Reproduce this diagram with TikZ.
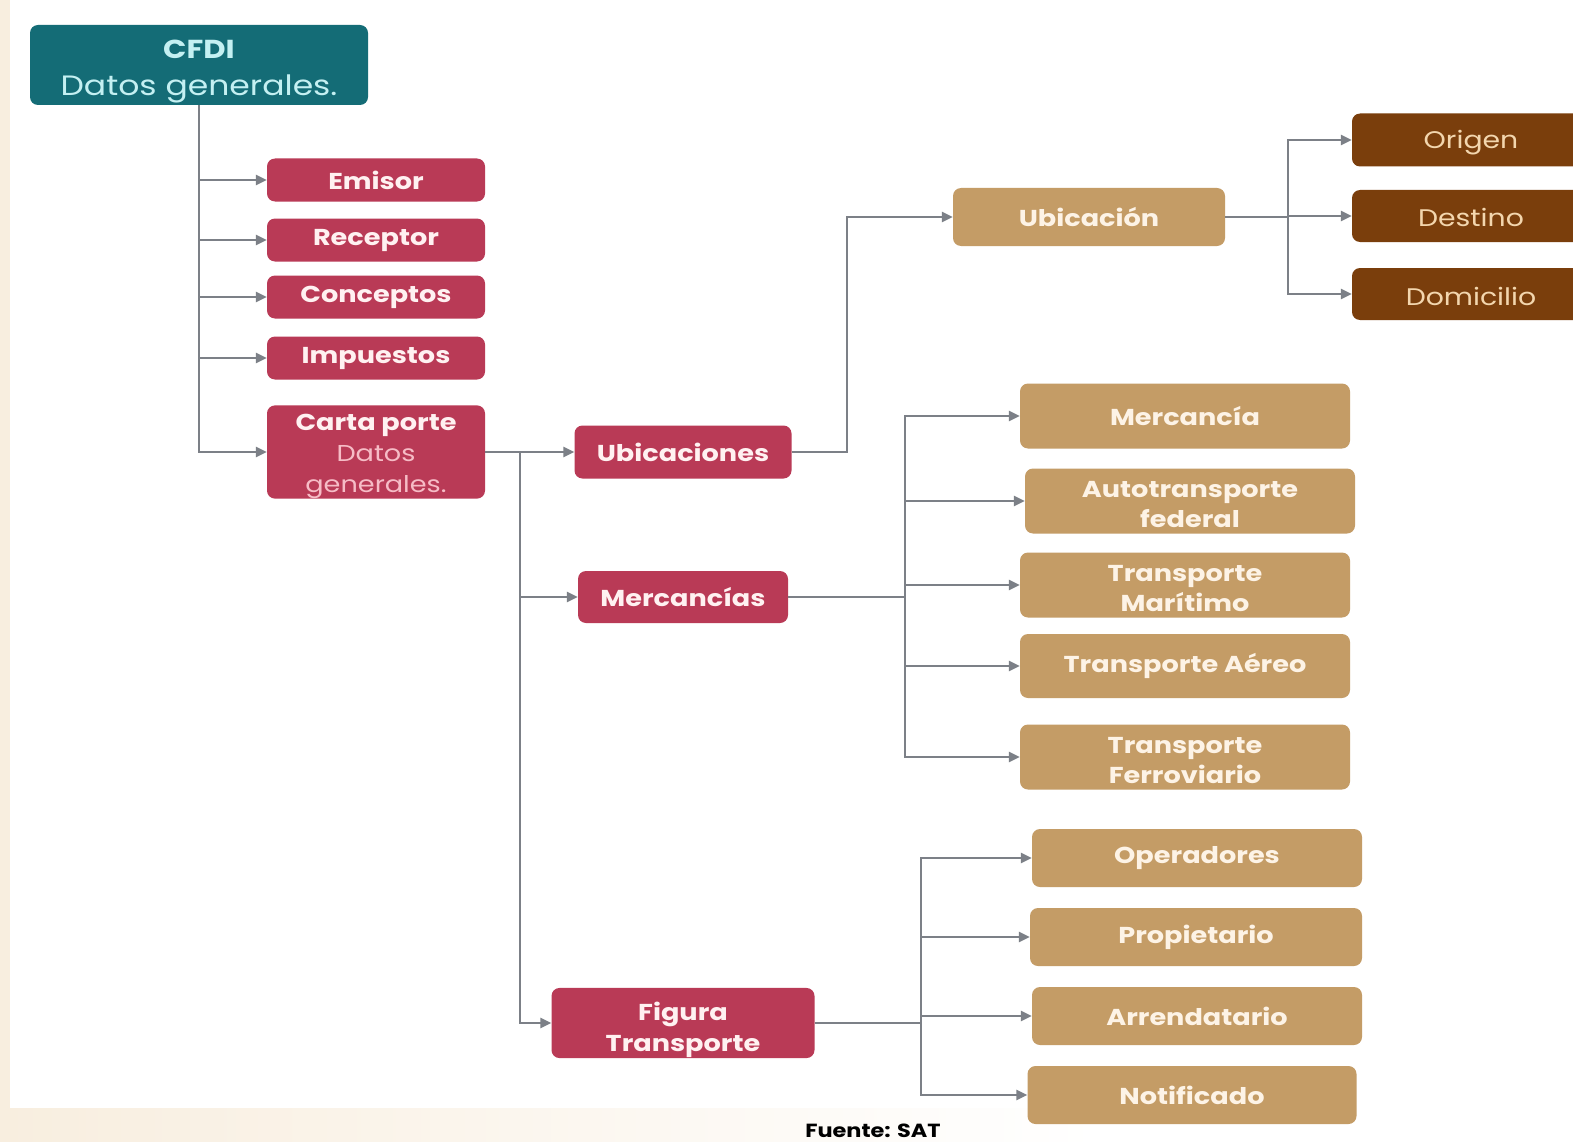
\documentclass[tikz,border=0pt]{standalone}
\usepackage{fontspec}
\setmainfont{Poppins}[FakeStretch=1.18]
\usetikzlibrary{arrows.meta}
\definecolor{tealbox}{HTML}{146C76}
\definecolor{tealtxt}{HTML}{C4F0F2}
\definecolor{redbox}{HTML}{B93A56}
\definecolor{redtxt}{HTML}{FFF1F1}
\definecolor{pinktxt}{HTML}{F6BCC6}
\definecolor{tanbox}{HTML}{C49C66}
\definecolor{tantxt}{HTML}{FDF3E6}
\definecolor{brownbox}{HTML}{7A3E0C}
\definecolor{browntxt}{HTML}{F3D6AE}
\definecolor{linegrey}{HTML}{7C8087}
\definecolor{cream}{HTML}{F8EEDF}
\newcommand{\topstrut}[1]{\rule{0pt}{#1pt}}
\begin{document}
\begin{tikzpicture}[x=1pt,y=-1pt,
  basebox/.style={rounded corners=8pt, align=center, inner sep=0pt, anchor=center},
  tealnode/.style={basebox, fill=tealbox, text=tealtxt, font=\fontsize{28}{37}\selectfont},
  rednode/.style={basebox, fill=redbox, text=redtxt, font=\fontsize{23}{31}\selectfont\bfseries, minimum width=218, minimum height=43},
  tannode/.style={basebox, fill=tanbox, text=tantxt, font=\fontsize{23}{30}\selectfont\bfseries, minimum width=330, minimum height=65},
  brownnode/.style={basebox, fill=brownbox, text=browntxt, font=\fontsize{24}{30}\selectfont, minimum width=238, minimum height=52},
  conn/.style={draw=linegrey, line width=2.4pt, -{Triangle[length=11pt,width=10pt]}},
  plain/.style={draw=linegrey, line width=2.4pt}]
% background
\useasboundingbox (0,0) rectangle (1573,1142);
\fill[white] (0,0) rectangle (1573,1142);
\fill[cream] (0,0) rectangle (10,1142);
\shade[left color=cream, right color=white] (0,1108) rectangle (1100,1142);

% nodes
\node[tealnode, minimum width=338, minimum height=80] (cfdi) at (199,65)
  {{\fontsize{26}{37}\selectfont\bfseries\topstrut{31}CFDI}\\Datos generales.};
\node[rednode] (emisor) at (376,180) {Emisor};
\node[rednode] (receptor) at (376,240) {Receptor};
\node[rednode] (conceptos) at (376,297) {Conceptos};
\node[rednode] (impuestos) at (376,358) {Impuestos};
\node[rednode, minimum height=93] (carta) at (376,452)
  {\topstrut{25}Carta porte\\{\mdseries\color{pinktxt}Datos}\\{\mdseries\color{pinktxt}generales.}};
\node[rednode, minimum width=217, minimum height=53] (ubics) at (683,452) {Ubicaciones};
\node[rednode, minimum width=210, minimum height=52] (mercs) at (683,597) {Mercancías};
\node[rednode, minimum width=263, minimum height=70] (figura) at (683,1023) {\topstrut{33}Figura\\Transporte};

\node[tannode, minimum width=272, minimum height=58] (ubic) at (1089,217) {Ubicación};
\node[brownnode, minimum height=53] (origen) at (1471,140) {\topstrut{24}Origen};
\node[brownnode] (destino) at (1471,216) {\topstrut{22}Destino};
\node[brownnode] (domicilio) at (1471,294) {\topstrut{24}Domicilio};

\node[tannode] (merc) at (1185,416) {Mercancía};
\node[tannode] (auto) at (1190,501) {\topstrut{23}Autotransporte\\federal};
\node[tannode] (mar) at (1185,585) {\topstrut{23}Transporte\\Marítimo};
\node[tannode, minimum height=64] (aereo) at (1185,666) {Transporte Aéreo};
\node[tannode] (ferro) at (1185,757) {\topstrut{23}Transporte\\Ferroviario};

\node[tannode, minimum height=58] (oper) at (1197,858) {Operadores};
\node[tannode, minimum width=332, minimum height=58] (prop) at (1196,937) {Propietario};
\node[tannode, minimum height=58] (arren) at (1197,1016) {Arrendatario};
\node[tannode, minimum width=329, minimum height=58] (notif) at (1192,1095) {Notificado};

\node[anchor=base, inner sep=0pt, font=\fontsize{19}{19}\selectfont\bfseries, text=black] (fuente) at (873,1137) {Fuente: SAT};

% branch coordinates
\coordinate (b1) at (520,452);
\coordinate (b2) at (847,452);
\coordinate (b3) at (1288,217);
\coordinate (b4) at (905,597);
\coordinate (b5) at (921,1023);

% connectors
\foreach \t in {emisor,receptor,conceptos,impuestos,carta}
  \draw[conn] (cfdi.south) |- (\t.west);

\draw[plain] (carta.east) -- (b1);
\draw[conn] (b1) -- (ubics.west);
\draw[conn] (b1) |- (mercs.west);
\draw[conn] (b1) |- (figura.west);

\draw[conn] (ubics.east) -- (b2) |- (ubic.west);

\draw[plain] (ubic.east) -- (b3);
\foreach \t in {origen,destino,domicilio}
  \draw[conn] (b3) |- (\t.west);

\draw[plain] (mercs.east) -- (b4);
\foreach \t in {merc,auto,mar,aereo,ferro}
  \draw[conn] (b4) |- (\t.west);

\draw[plain] (figura.east) -- (b5);
\foreach \t in {oper,prop,arren,notif}
  \draw[conn] (b5) |- (\t.west);
\end{tikzpicture}
\end{document}
